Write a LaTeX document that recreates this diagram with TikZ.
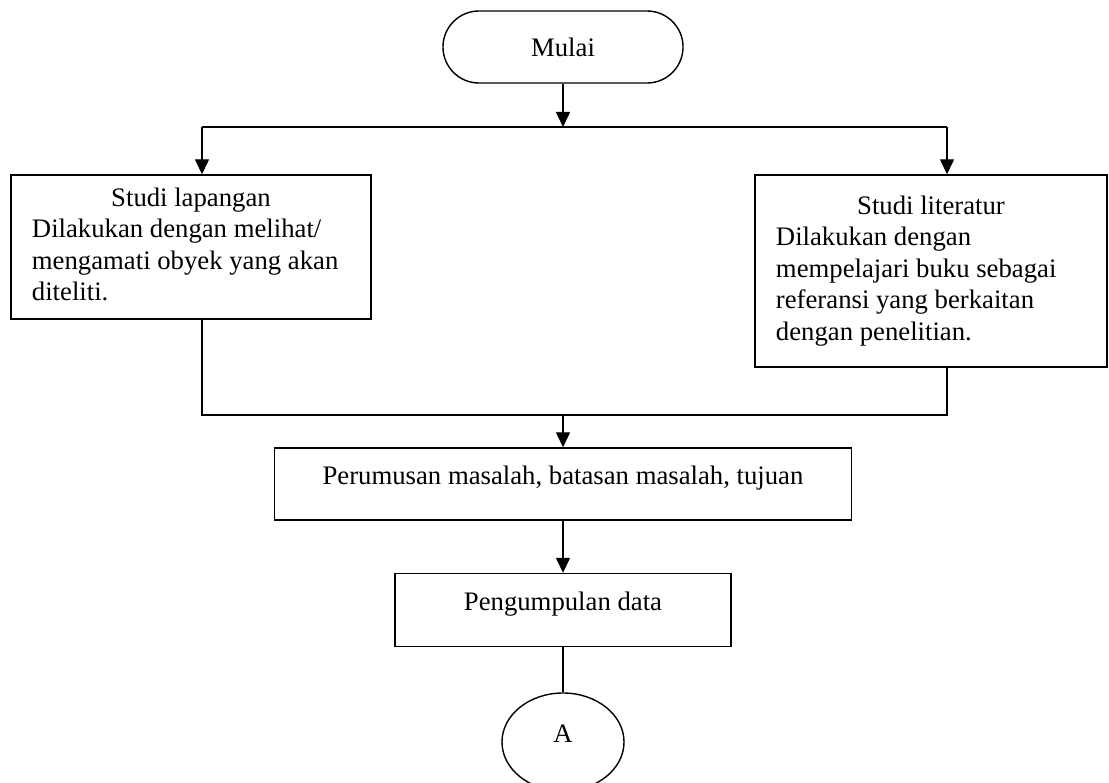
\documentclass[tikz,border=0pt]{standalone}
\usepackage{fontspec}
\setmainfont{Liberation Serif}
\usetikzlibrary{arrows.meta,shapes.geometric}

\tikzset{
  kotak/.style={draw, line width=1pt, rectangle, inner sep=0pt, font=\fontsize{19}{22.4}\selectfont},
  satubaris/.style={text height=0.3cm, text depth=0.3cm},
  panah/.style={line width=1pt, -{Triangle[length=0.375cm,width=0.35cm]}},
  garis/.style={line width=1pt}
}

\begin{document}
\begin{tikzpicture}[x=0.025cm, y=-0.025cm]

 \useasboundingbox (0,0) rectangle (1109,782);

 \node[kotak, rounded corners=0.9cm, minimum width=6cm, minimum height=1.8cm] (mulai) at (563,47) {Mulai};

 \coordinate (cabang) at (563,127);
 \coordinate (kiri) at (202,127);
 \coordinate (kanan) at (947,127);

 \node[kotak, minimum width=9cm, minimum height=3.6cm] (lapangan) at (191,247)
   {\begin{tabular}{@{}p{7.95cm}@{}}
     \multicolumn{1}{@{}c@{}}{Studi lapangan}\\
     Dilakukan dengan melihat/\\
     mengamati obyek yang akan\\
     diteliti.
   \end{tabular}};

 \node[kotak, minimum width=8.8cm, minimum height=4.8cm] (literatur) at (931,271)
   {\begin{tabular}{@{}p{7.75cm}@{}}
     \multicolumn{1}{@{}c@{}}{Studi literatur}\\
     Dilakukan dengan\\
     mempelajari buku sebagai\\
     referansi yang berkaitan\\
     dengan penelitian.
   \end{tabular}};

 \coordinate (gkiri) at (202,415);
 \coordinate (gabung) at (563,415);
 \coordinate (gkanan) at (947,415);

 \node[kotak, satubaris, minimum width=14.425cm, minimum height=1.8cm] (perumusan) at (563,484) {Perumusan masalah, batasan masalah, tujuan};

 \node[kotak, satubaris, minimum width=8.4cm, minimum height=1.825cm] (pengumpulan) at (563,610) {Pengumpulan data};

 \node[kotak, satubaris, ellipse, minimum width=3.05cm, minimum height=2.45cm] (A) at (563,742) {A};

 % penghubung
 \draw[panah] (mulai.south) -- (cabang);
 \draw[garis] (kiri) -- (kanan);
 \draw[panah] (kiri) -- (kiri |- lapangan.north);
 \draw[panah] (kanan) -- (kanan |- literatur.north);

 \draw[garis] (kiri |- lapangan.south) -- (gkiri) -- (gkanan) -- (kanan |- literatur.south);
 \draw[panah] (gabung) -- (perumusan.north);
 \draw[panah] (perumusan) -- (pengumpulan);
 \draw[garis] (pengumpulan) -- (A);

\end{tikzpicture}
\end{document}
